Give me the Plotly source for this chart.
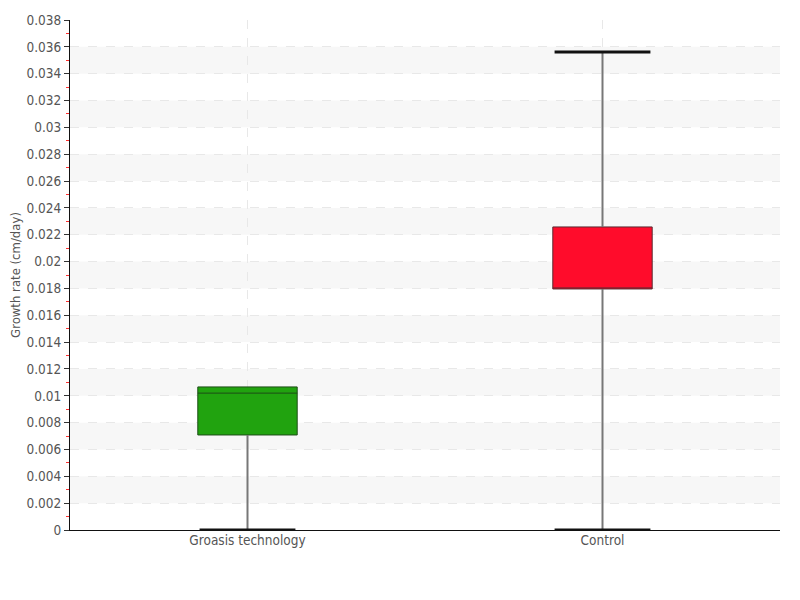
import plotly.graph_objects as go

categories = ["Groasis technology", "Control"]
lower_fence = [0.0, 0.0]
q1 = [0.00708, 0.01796]
median = [0.0102, 0.01796]
q3 = [0.01066, 0.02258]
upper_fence = [0.01066, 0.03562]
fill_colors = ["#21a30f", "#ff0c2b"]
outline_colors = ["#1d4d17", "#5a2a30"]

y_tick_vals = [i * 0.002 for i in range(20)]
y_tick_text = [f"{round(v, 3):g}" for v in y_tick_vals]

box_w = 0.28
cap_w = 0.27
font_family = "DejaVu Sans Condensed, Liberation Sans Narrow, sans-serif"

fig = go.Figure()
xs = list(range(len(categories)))

# alternating background bands
for i, v in enumerate(y_tick_vals[:-1]):
    if i % 2 == 1:
        fig.add_shape(type="rect", xref="paper", x0=0, x1=1, yref="y",
                      y0=v, y1=y_tick_vals[i + 1], fillcolor="#f7f7f7",
                      line_width=0, layer="below")

for i, c in enumerate(categories):
    fig.add_trace(go.Box(
        x=[xs[i]], q1=[q1[i]], median=[median[i]], q3=[q3[i]],
        lowerfence=[lower_fence[i]], upperfence=[upper_fence[i]],
        width=box_w, whiskerwidth=0, fillcolor=fill_colors[i],
        line=dict(color=outline_colors[i], width=1),
        boxpoints=False, showlegend=False, hoverinfo="skip"))
    # whiskers
    for a, b in ((lower_fence[i], q1[i]), (q3[i], upper_fence[i])):
        if b > a:
            fig.add_trace(go.Scatter(x=[xs[i], xs[i]], y=[a, b], mode="lines",
                                     line=dict(color="#777777", width=2),
                                     showlegend=False, hoverinfo="skip"))
    # caps
    for yv in (lower_fence[i], upper_fence[i]):
        if yv != q3[i]:
            fig.add_trace(go.Scatter(x=[xs[i] - cap_w / 2, xs[i] + cap_w / 2], y=[yv, yv],
                                     mode="lines", line=dict(color="#111111", width=3),
                                     showlegend=False, hoverinfo="skip"))

fig.update_layout(
    width=800, height=600,
    margin=dict(l=62, r=28, t=12, b=78),
    paper_bgcolor="white", plot_bgcolor="white",
    font=dict(family=font_family, size=13.5, color="#555555"),
    xaxis=dict(range=[-0.5, 1.5], tickmode="array", tickvals=xs, ticktext=categories,
               showgrid=True, gridcolor="#e8e8e8", griddash="dash", gridwidth=1,
               showline=True, linecolor="#111111", linewidth=1, automargin=False,
               ticks="", ticklabelstandoff=-2, zeroline=False),
    yaxis=dict(range=[0, 0.038], tickmode="array", tickvals=y_tick_vals, ticktext=y_tick_text,
               showgrid=True, gridcolor="#e8e8e8", griddash="dash", gridwidth=1,
               showline=True, linecolor="#111111", linewidth=1, automargin=False,
               ticks="outside", ticklen=5, tickcolor="#333333", zeroline=False,
               minor=dict(ticks="outside", ticklen=3, tickcolor="#ff3030", dtick=0.001, tick0=0.001,
                          showgrid=False),
               title=dict(text="Growth rate (cm/day)", font=dict(size=13, color="#555555"), standoff=14)),
)

fig.write_html("out.html")
